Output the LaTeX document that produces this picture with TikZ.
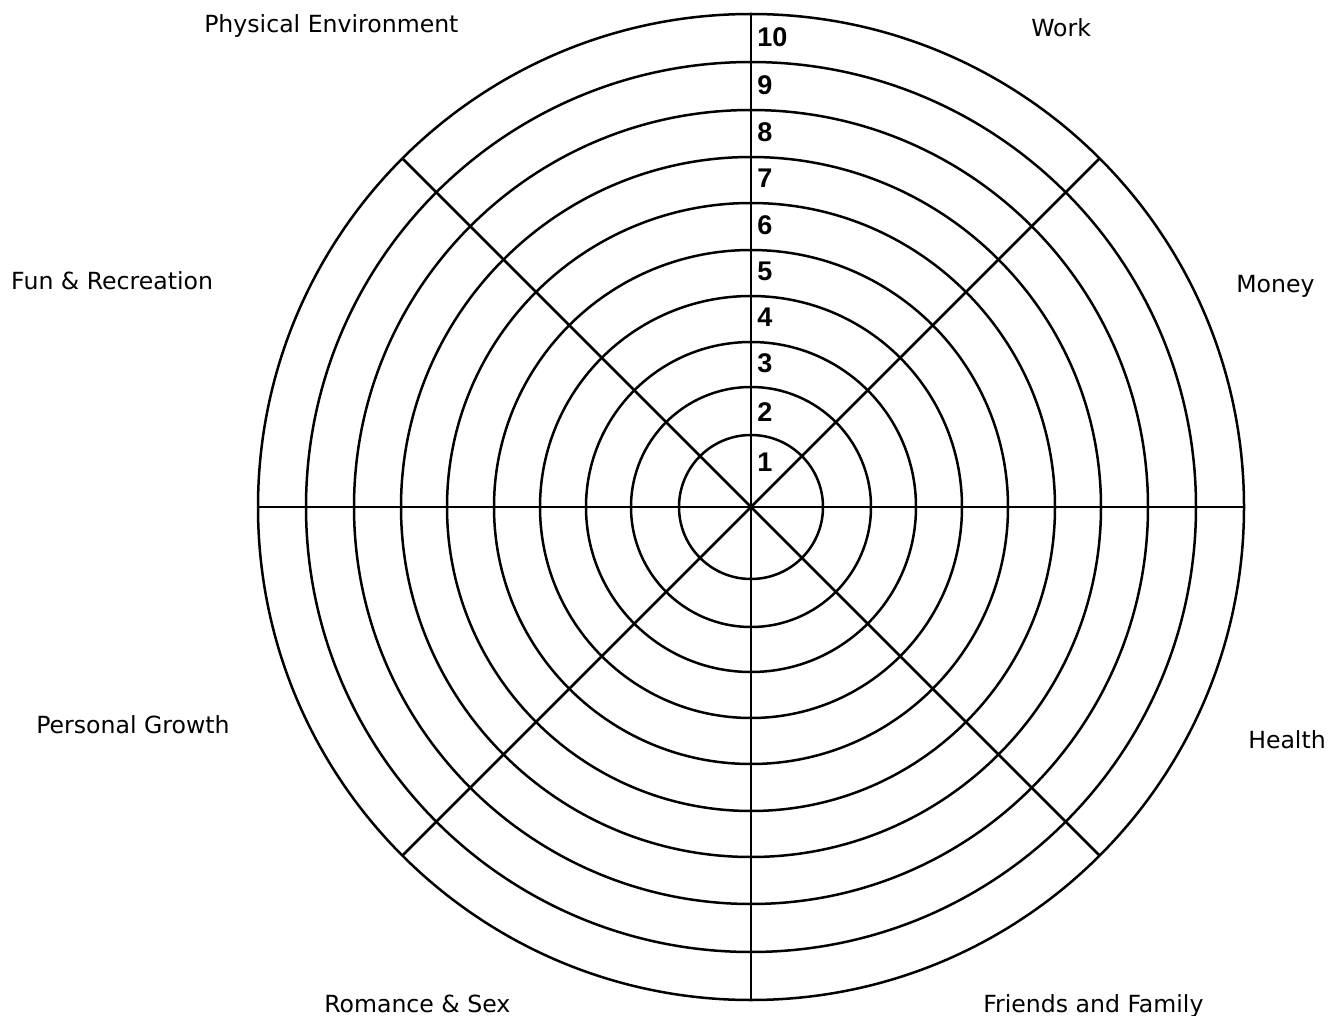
\documentclass[tikz,border=0pt]{standalone}
\usepackage{fontspec}
\setmainfont{DejaVu Sans}
\newfontfamily\digitfont{Liberation Sans}

\begin{document}
\begin{tikzpicture}[x=0.5pt,y=-0.5pt,line width=1.25pt,
    area/.style={font=\fontsize{11.8}{14}\selectfont, inner sep=0pt},
    score/.style={font=\digitfont\bfseries\fontsize{13.5}{15}\selectfont, inner sep=0pt, anchor=west}]

\useasboundingbox (0,0) rectangle (1329,1016);

% Draw the centre
\coordinate (O) at (751, 507);

% Draw the rings (scores 1 to 10)
\foreach \r in {72,120,165,211,257,304,350,397,445,493}
  \draw (O) circle (\r);

% Draw the spokes
\def\R{493}
\foreach \a in {0,45,...,315}
  \draw (O) -- ++(\a:\R);

% Draw the score numbers
\foreach \n/\y in {1/462,2/412,3/363,4/317,5/271,6/225,7/178,8/132.5,9/85.5,10/37}
  \node[score] (s\n) at (756,\y) {\n};

% Draw the life areas
\node[area, anchor=base west] (env)  at (203,33)   {Physical Environment};
\node[area, anchor=base west] (work) at (1030,37)  {Work};
\node[area, anchor=base west] (fun)  at (10,290)   {Fun \& Recreation};
\node[area, anchor=base west] (money) at (1235,293) {Money};
\node[area, anchor=base west] (grow) at (35,733)   {Personal Growth};
\node[area, anchor=base west] (health) at (1247,748) {Health};
\node[area, anchor=base west] (love) at (323,1012) {Romance \& Sex};
\node[area, anchor=base west] (fam)  at (982,1012) {Friends and Family};

\end{tikzpicture}
\end{document}
